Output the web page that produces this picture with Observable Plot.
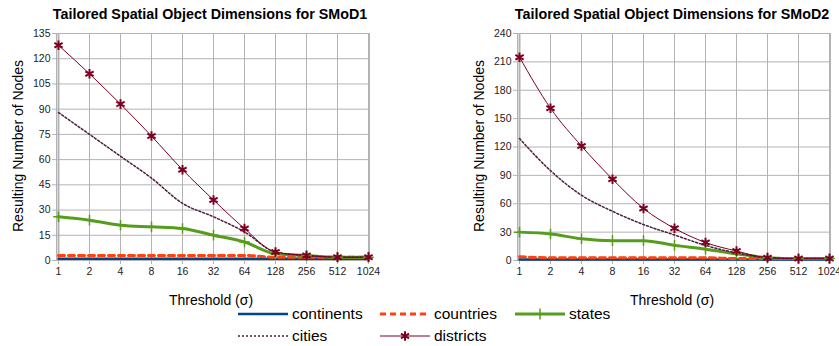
<!DOCTYPE html>
<html>
<head>
<meta charset="utf-8">
<script src="https://cdn.jsdelivr.net/npm/d3@7"></script>
<script src="https://cdn.jsdelivr.net/npm/@observablehq/plot@0.6"></script>
<style>
  html, body { margin: 0; padding: 0; background: #fff; }
  body { font-family: "Liberation Sans", Arial, sans-serif; }
  #wrap { position: relative; width: 839px; height: 346px; overflow: hidden; }
  .panel { position: absolute; top: 0; }
  .title { position: absolute; font-weight: bold; font-size: 14.3px; color: #000; white-space: nowrap; transform: translateX(-50%); }
  .xlabel { position: absolute; font-size: 14px; color: #000; white-space: nowrap; transform: translate(-50%, -50%); }
  .ylabel { position: absolute; font-size: 14px; color: #000; white-space: nowrap; transform: translate(-50%, -50%) rotate(-90deg); }
  #legend { position: absolute; left: 0; top: 300px; }
</style>
</head>
<body>
<div id="wrap"></div>
<script>
// ---- data ----
const thresholds = ["1","2","4","8","16","32","64","128","256","512","1024"];
const seriesNames = ["continents","countries","states","cities","districts"];

const smod1_continents = [1,1,1,1,1,1,1,1,1,1,1];
const smod1_countries  = [3,3,3,3,3,3,3,2,2,2,2];
const smod1_states     = [26,24,21,20,19,15,11,4,3,2,2];
const smod1_cities     = [88,75,62,49,34,26,17,5,3,2,2];
const smod1_districts  = [128,111,93,74,54,36,19,5,3,2,2];
const smod1_yTicks     = [0,15,30,45,60,75,90,105,120,135];

const smod2_continents = [1,1,1,1,1,1,1,1,1,1,1];
const smod2_countries  = [4,3,3,3,3,3,3,2,2,2,2];
const smod2_states     = [30,28,23,21,21,16,12,7,3,2,2];
const smod2_cities     = [129,95,69,52,38,27,16,8,3,2,2];
const smod2_districts  = [215,161,121,86,55,34,19,10,3,2,2];
const smod2_yTicks     = [0,30,60,90,120,150,180,210,240];

// ---- styles ----
const colors = {continents:"#004586", countries:"#ff420e", states:"#579d1c", cities:"#4b1f3f", districts:"#7e0021"};
const widths = {continents:2.5, countries:3, states:3, cities:1.5, districts:1};
const dashes = {continents:null, countries:"6,4", states:null, cities:"2,2", districts:null};
const gridColor = "#b3b3b3";

function rows(arrs) {
  const out = [];
  seriesNames.forEach((s, i) => {
    arrs[i].forEach((v, j) => out.push({series: s, t: thresholds[j], v}));
  });
  return out;
}

function makeChart(opts) {
  const data = rows(opts.arrays);
  const marks = [
    Plot.gridX(thresholds, {stroke: gridColor, strokeOpacity: 1}),
    Plot.gridY(opts.yTicks, {stroke: gridColor, strokeOpacity: 1}),
    Plot.frame({stroke: gridColor, strokeWidth: 1}),
    Plot.ruleX([thresholds[0]], {stroke: gridColor, strokeWidth: 2}),
    Plot.axisX(thresholds, {tickSize: 4, tickPadding: 3, stroke: gridColor, fill: "#222", fontSize: 10.5, label: null}),
    Plot.axisY(opts.yTicks, {tickSize: 4, tickPadding: 2, stroke: gridColor, fill: "#222", fontSize: 10.5, label: null})
  ];
  for (const s of seriesNames) {
    const d = data.filter(r => r.series === s);
    marks.push(Plot.line(d, {
      x: "t", y: "v", stroke: colors[s], strokeWidth: widths[s],
      strokeDasharray: dashes[s], curve: "monotone-x"
    }));
  }
  marks.push(Plot.dot(data.filter(r => r.series === "states"), {
    x: "t", y: "v", symbol: "plus", r: 3.5, stroke: colors.states, strokeWidth: 1.5
  }));
  marks.push(Plot.dot(data.filter(r => r.series === "districts"), {
    x: "t", y: "v", symbol: "asterisk", r: 4.5, stroke: colors.districts, strokeWidth: 2
  }));
  return Plot.plot({
    width: opts.width, height: 285,
    marginLeft: opts.marginLeft, marginRight: opts.marginRight,
    marginTop: 33, marginBottom: 25,
    style: {fontFamily: "Liberation Sans, Arial, sans-serif", background: "transparent"},
    x: {type: "point", domain: thresholds, padding: 0},
    y: {domain: [0, opts.yMax]},
    marks
  });
}

const wrap = document.getElementById("wrap");

function addPanel(left, opts, titleText, titleX, ylabelX, xlabelX) {
  const div = document.createElement("div");
  div.className = "panel";
  div.style.left = left + "px";
  div.appendChild(makeChart(opts));
  wrap.appendChild(div);
  const t = document.createElement("div");
  t.className = "title"; t.textContent = titleText;
  t.style.left = titleX + "px"; t.style.top = "6px";
  wrap.appendChild(t);
  const yl = document.createElement("div");
  yl.className = "ylabel"; yl.textContent = "Resulting Number of Nodes";
  yl.style.left = ylabelX + "px"; yl.style.top = "146px";
  wrap.appendChild(yl);
  const xl = document.createElement("div");
  xl.className = "xlabel"; xl.textContent = "Threshold (σ)";
  xl.style.left = xlabelX + "px"; xl.style.top = "300px";
  wrap.appendChild(xl);
}

addPanel(0, {arrays:[smod1_continents,smod1_countries,smod1_states,smod1_cities,smod1_districts],
  yTicks: smod1_yTicks, yMax: 135, width: 420, marginLeft: 56, marginRight: 51},
  "Tailored Spatial Object Dimensions for SMoD1", 210, 18, 211);
addPanel(420, {arrays:[smod2_continents,smod2_countries,smod2_states,smod2_cities,smod2_districts],
  yTicks: smod2_yTicks, yMax: 240, width: 419, marginLeft: 97, marginRight: 9},
  "Tailored Spatial Object Dimensions for SMoD2", 672, 479, 672);

// ---- legend ----
const legendItems = [
  {name: "continents", x: 238, y: 14},
  {name: "countries", x: 380, y: 14},
  {name: "states", x: 515, y: 14},
  {name: "cities", x: 238, y: 36},
  {name: "districts", x: 380, y: 36}
];
const lsvg = d3.create("svg").attr("id", "legend").attr("width", 839).attr("height", 46)
  .style("font-family", "Liberation Sans, Arial, sans-serif");
for (const it of legendItems) {
  const g = lsvg.append("g");
  g.append("line").attr("x1", it.x).attr("x2", it.x + 50).attr("y1", it.y).attr("y2", it.y)
    .attr("stroke", colors[it.name]).attr("stroke-width", widths[it.name])
    .attr("stroke-dasharray", dashes[it.name]);
  if (it.name === "states") {
    g.append("path").attr("d", d3.symbol(d3.symbolPlus, 40)())
      .attr("transform", `translate(${it.x + 25},${it.y})`).attr("fill", "none")
      .attr("stroke", colors.states).attr("stroke-width", 1.5);
  }
  if (it.name === "districts") {
    g.append("path").attr("d", d3.symbol(d3.symbolAsterisk, 60)())
      .attr("transform", `translate(${it.x + 25},${it.y})`).attr("fill", "none")
      .attr("stroke", colors.districts).attr("stroke-width", 2);
  }
  g.append("text").attr("x", it.x + 54).attr("y", it.y).attr("dy", "0.35em")
    .attr("font-size", 15.5).attr("fill", "#000").text(it.name);
}
wrap.appendChild(lsvg.node());
</script>
</body>
</html>
